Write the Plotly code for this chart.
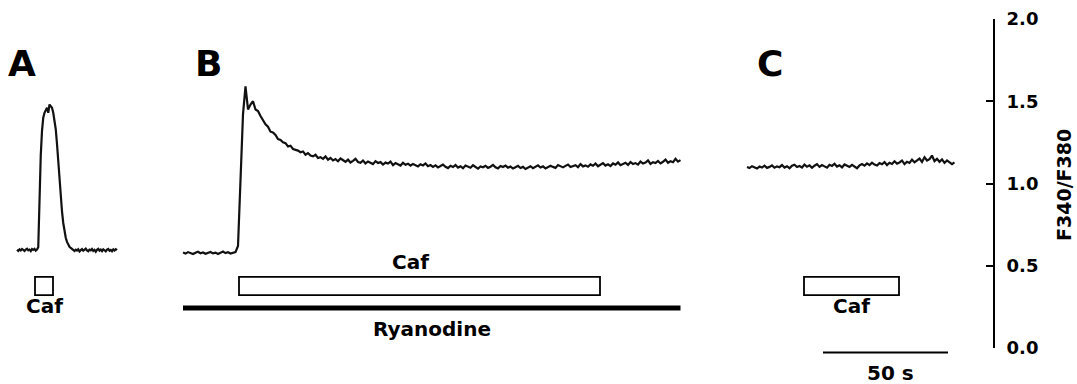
import numpy as np
import plotly.graph_objects as go

# ---------------- data (F340/F380 ratio) ----------------
# Panel A: sampled every 0.5 s
A_DT = 0.5
A_ratio = [0.597, 0.590, 0.600, 0.593, 0.602, 0.596, 0.590, 0.599, 0.604, 0.594,
           0.598, 0.589, 0.601, 0.596, 0.603, 0.592, 0.598,
           0.612, 0.94, 1.17, 1.32, 1.40, 1.43, 1.45, 1.46, 1.43, 1.48, 1.47, 1.46,
           1.43, 1.39, 1.33, 1.24, 1.12, 1.01, 0.91, 0.83, 0.76, 0.71, 0.67, 0.645,
           0.628, 0.615, 0.608,
           0.603, 0.596, 0.590, 0.598, 0.592, 0.600, 0.587, 0.595, 0.601, 0.591,
           0.597, 0.604, 0.593, 0.588, 0.598, 0.594, 0.602, 0.590, 0.596, 0.585,
           0.597, 0.603, 0.592, 0.598, 0.589, 0.600, 0.594, 0.587, 0.598, 0.602,
           0.591, 0.596, 0.588, 0.599, 0.593, 0.601, 0.595]

# Panel B: sampled every 1 s
B_DT = 1.0
B_ratio = [0.580, 0.574, 0.583, 0.577, 0.571, 0.579, 0.585, 0.576, 0.581, 0.573,
           0.578, 0.584, 0.575, 0.580, 0.572, 0.579, 0.586, 0.577, 0.582, 0.574,
           0.579, 0.583,
           0.62, 1.05, 1.42, 1.59,
           1.45, 1.48, 1.50, 1.45, 1.44, 1.41, 1.385, 1.36, 1.345, 1.315,
           1.31, 1.295, 1.27, 1.265, 1.25, 1.245, 1.225, 1.23, 1.21, 1.205,
           1.20, 1.19, 1.195, 1.175, 1.185, 1.17, 1.165, 1.175, 1.155, 1.16,
           1.15, 1.165, 1.145, 1.155, 1.14,
           1.148, 1.135, 1.152, 1.140, 1.132, 1.145, 1.128, 1.138, 1.150, 1.131,
           1.126, 1.140, 1.122, 1.134, 1.128, 1.118, 1.136, 1.125, 1.130, 1.115,
           1.127, 1.121, 1.133, 1.112, 1.124, 1.118, 1.109, 1.126, 1.114, 1.120,
           1.108, 1.119, 1.113, 1.104, 1.117, 1.110, 1.122, 1.105, 1.112, 1.101,
           1.110, 1.098, 1.106, 1.115, 1.102, 1.094, 1.108, 1.100, 1.112, 1.097,
           1.105, 1.093, 1.109, 1.101, 1.096, 1.111, 1.103, 1.090, 1.104, 1.099,
           1.108, 1.095, 1.102, 1.113, 1.098, 1.092, 1.106, 1.100, 1.109, 1.096,
           1.103, 1.091, 1.099, 1.107, 1.094, 1.101, 1.088, 1.098, 1.105, 1.093,
           1.100, 1.110, 1.097, 1.104, 1.092, 1.099, 1.108, 1.101, 1.095, 1.112,
           1.103, 1.098, 1.107, 1.115, 1.100, 1.106, 1.111, 1.099, 1.118, 1.104,
           1.110, 1.102, 1.116, 1.108, 1.121, 1.105, 1.113, 1.124, 1.109, 1.117,
           1.106, 1.122, 1.114, 1.128, 1.111, 1.119, 1.126, 1.113, 1.131, 1.118,
           1.124, 1.115, 1.133, 1.121, 1.127, 1.140, 1.119, 1.130, 1.124, 1.137,
           1.122, 1.132, 1.145, 1.126, 1.135, 1.129, 1.150, 1.133, 1.142]

# Panel C: sampled every 1 s
C_DT = 1.0
C_ratio = [1.100, 1.094, 1.105, 1.098, 1.091, 1.103, 1.097, 1.108, 1.095, 1.101,
           1.110, 1.096, 1.104, 1.099, 1.112, 1.097, 1.105, 1.093, 1.108, 1.114,
           1.100,
           1.106, 1.097, 1.115, 1.102, 1.110, 1.095, 1.108, 1.118, 1.101, 1.112,
           1.104, 1.096, 1.114, 1.107, 1.120, 1.103, 1.111, 1.098, 1.116, 1.109,
           1.101, 1.113, 1.105, 1.093, 1.110, 1.118, 1.108, 1.122, 1.112, 1.127,
           1.115, 1.109, 1.124, 1.117, 1.130, 1.112, 1.126, 1.119, 1.135, 1.121,
           1.128, 1.140, 1.118, 1.132, 1.125, 1.145, 1.129, 1.138, 1.152, 1.131,
           1.160, 1.140, 1.148, 1.170, 1.136, 1.150, 1.132, 1.146, 1.125, 1.140,
           1.130, 1.118, 1.128]

# drug applications (seconds, relative to the start of each panel's record)
caf_A = [7.2, 14.4]
caf_B = [22.4, 166.8]
caf_C = [22.8, 60.8]
ryanodine_B = [0.0, 199.0]
scale_bar_s = 50

panel_labels = ["A", "B", "C"]
y_ticks = [0.0, 0.5, 1.0, 1.5, 2.0]

# ---------------- layout helpers ----------------
W, H = 1077, 384
PLOT_W = 993            # right edge of plot area (y axis position) in px
SEC_PER_PX = 1 / 2.5    # 50 s == 125 px
X_MAX = PLOT_W * SEC_PER_PX
A_OFF, B_OFF, C_OFF = 6.8, 73.2, 298.8   # panel start on the shared time axis
SCALE_START = 329.2

def py(p):  # pixel row -> paper y
    return (H - p) / H

def px(p):  # pixel column -> time axis value
    return p * SEC_PER_PX

FONT = "DejaVu Sans"
BLACK = "#000000"

fig = go.Figure()
for vals, dt, off in [(A_ratio, A_DT, A_OFF), (B_ratio, B_DT, B_OFF), (C_ratio, C_DT, C_OFF)]:
    t = np.arange(len(vals)) * dt + off
    fig.add_trace(go.Scatter(x=t, y=vals, mode="lines",
                             line=dict(color="#111111", width=2.2),
                             hoverinfo="skip", showlegend=False))

shapes = []
box_y0, box_y1 = 0.322, 0.432
for (s, e), off in [(caf_A, A_OFF), (caf_B, B_OFF), (caf_C, C_OFF)]:
    shapes.append(dict(type="rect", xref="x", yref="y", x0=s + off, x1=e + off,
                       y0=box_y0, y1=box_y1, fillcolor="white",
                       line=dict(color=BLACK, width=1.8)))
shapes.append(dict(type="line", xref="x", yref="y",
                   x0=ryanodine_B[0] + B_OFF, x1=ryanodine_B[1] + B_OFF,
                   y0=0.243, y1=0.243, line=dict(color=BLACK, width=5)))
shapes.append(dict(type="line", xref="x", yref="paper",
                   x0=SCALE_START, x1=SCALE_START + scale_bar_s,
                   y0=py(352.5), y1=py(352.5), line=dict(color=BLACK, width=2.2)))

def ann(text, x, ypix, size=20, **kw):
    return dict(text=text, x=x, y=py(ypix), xref="x", yref="paper",
                showarrow=False, xanchor="center", yanchor="middle",
                font=dict(family=FONT, size=size, color=BLACK, weight="bold"), **kw)

annotations = [
    ann(panel_labels[0], px(22), 63, size=36),
    ann(panel_labels[1], px(208), 63, size=36),
    ann(panel_labels[2], px(770), 63, size=36),
    ann("Caf", (caf_A[0] + caf_A[1]) / 2 + A_OFF, 306),
    ann("Caf", px(410), 262),
    ann("Caf", (caf_C[0] + caf_C[1]) / 2 + C_OFF, 306),
    ann("Ryanodine", (ryanodine_B[0] + ryanodine_B[1]) / 2 + B_OFF, 329),
    ann("50 s", px(890), 373),
    dict(text="F340/F380", x=1064 / PLOT_W, y=py(185), xref="paper", yref="paper",
         showarrow=False, textangle=-90, xanchor="center", yanchor="middle",
         font=dict(family=FONT, size=19, color=BLACK, weight="bold")),
]

fig.update_layout(
    width=W, height=H, autosize=False,
    margin=dict(l=0, r=W - PLOT_W, t=0, b=0, pad=0),
    paper_bgcolor="white", plot_bgcolor="white",
    shapes=shapes, annotations=annotations,
    xaxis=dict(range=[0, X_MAX], visible=False, domain=[0, 1], automargin=False),
    yaxis=dict(range=[0, 2], domain=[py(348), py(19)], side="right",
               automargin=False,
               showline=True, linecolor=BLACK, linewidth=2,
               ticks="inside", ticklen=7, tickwidth=2, tickcolor=BLACK,
               tickvals=y_ticks, tickformat=".1f", ticklabelstandoff=8,
               tickfont=dict(family=FONT, size=18, color=BLACK, weight="bold"),
               showgrid=False, zeroline=False),
)

fig.write_html("out.html")
